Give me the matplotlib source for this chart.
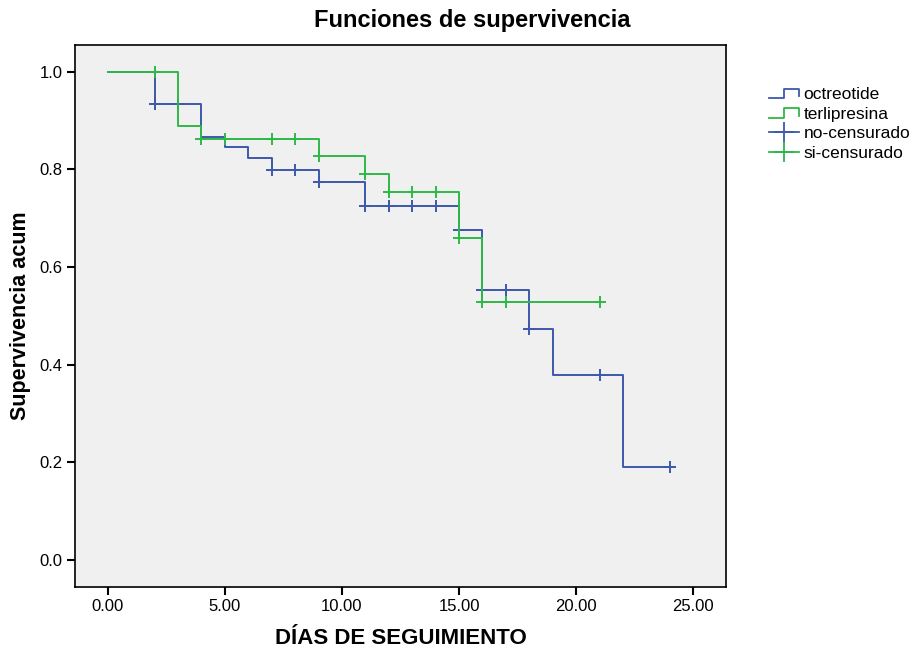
import numpy as np
import matplotlib
matplotlib.use('Agg')
from matplotlib import pyplot as plt
from matplotlib.lines import Line2D
from matplotlib.legend_handler import HandlerBase

plt.rcParams['font.family'] = ['Liberation Sans', 'DejaVu Sans']

# curvas de Kaplan-Meier (tiempo de caída, supervivencia)
oct_t = [0, 2, 4, 5, 6, 7, 9, 11, 15, 16, 18, 19, 22, 24]
oct_s = [1.0, 0.935, 0.867, 0.845, 0.823, 0.799, 0.775, 0.726,
         0.676, 0.553, 0.474, 0.379, 0.190, 0.190]
oct_cens = [2, 3, 7, 8, 9, 11, 12, 12, 13, 14, 15, 16, 17, 18, 21, 24]

ter_t = [0, 3, 4, 9, 11, 12, 15, 16, 21]
ter_s = [1.0, 0.890, 0.862, 0.827, 0.791, 0.754, 0.660, 0.528, 0.528]
ter_cens = [2, 4, 5, 7, 8, 9, 11, 12, 12, 13, 14, 15, 16, 17, 21]

labels = ['octreotide', 'terlipresina', 'no-censurado', 'si-censurado']
x_ticks = [0, 5, 10, 15, 20, 25]
y_ticks = [0.0, 0.2, 0.4, 0.6, 0.8, 1.0]

blue = '#3E58AC'
green = '#2EB848'


def level_at(t_steps, s_steps, t):
    """Supervivencia en el instante t (funcion escalonada, 'post')."""
    idx = np.searchsorted(t_steps, t, side='right') - 1
    return np.asarray(s_steps)[idx]


class StepHandler(HandlerBase):
    def create_artists(self, legend, orig, xd, yd, w, h, fs, trans):
        xs = np.array([0, 0.5, 0.5, 1.0, 1.0]) * w - xd
        ys = np.array([0.1, 0.1, 0.85, 0.85, 0.25]) * h - yd
        ln = Line2D(xs, ys, color=orig.get_color(), lw=1.3, transform=trans)
        return [ln]


class CrossHandler(HandlerBase):
    def create_artists(self, legend, orig, xd, yd, w, h, fs, trans):
        ln = Line2D([-xd, w - xd], [h / 2 - yd] * 2, color=orig.get_color(),
                    lw=1.3, transform=trans)
        mk = Line2D([w / 2 - xd], [h / 2 - yd], color=orig.get_color(),
                    marker='+', ms=14, mew=1.3, ls='', transform=trans)
        return [ln, mk]


fig = plt.figure(figsize=(9.17, 6.52), dpi=100)
ax = fig.add_axes([75 / 917, 1 - 586.7 / 652, (726 - 75) / 917, (586.7 - 45) / 652])
ax.set_facecolor('#F0F0F0')

ax.step(oct_t, oct_s, where='post', color=blue, lw=1.4)
ax.plot(oct_cens, level_at(oct_t, oct_s, oct_cens), ls='', marker='+',
        ms=9, mew=1.4, color=blue)
ax.step(ter_t, ter_s, where='post', color=green, lw=1.4)
ax.plot(ter_cens, level_at(ter_t, ter_s, ter_cens), ls='', marker='+',
        ms=9, mew=1.4, color=green)

ax.set_xlim(-1.4, 26.4)
ax.set_ylim(-0.055, 1.055)
ax.set_xticks(x_ticks)
ax.set_xticklabels(['%.2f' % v for v in x_ticks])
ax.set_yticks(y_ticks)
ax.set_yticklabels(['%.1f' % v for v in y_ticks])
ax.tick_params(direction='out', length=6, width=1.5, labelsize=12, pad=3)
for sp in ax.spines.values():
    sp.set_linewidth(1.2)

ax.set_xlabel('DÍAS DE SEGUIMIENTO', fontsize=16, fontweight='bold', labelpad=10)
ax.set_ylabel('Supervivencia acum', fontsize=15.5, fontweight='bold', labelpad=6)
fig.text(472.5 / 917, 1 - 20 / 652, 'Funciones de supervivencia', fontsize=17,
         fontweight='bold', ha='center', va='center')

h_oct = Line2D([], [], color=blue)
h_ter = Line2D([], [], color=green)
h_no = Line2D([], [], color=blue)
h_si = Line2D([], [], color=green)
fig.legend([h_oct, h_ter, h_no, h_si], labels,
           handler_map={h_oct: StepHandler(), h_ter: StepHandler(),
                        h_no: CrossHandler(), h_si: CrossHandler()},
           loc='upper left', bbox_to_anchor=(769 / 917, 1 - 87 / 652),
           frameon=False, fontsize=12.5, handlelength=1.75, handletextpad=0.25,
           labelspacing=0.26, borderpad=0, borderaxespad=0)

fig.savefig('out.png', dpi=100)
